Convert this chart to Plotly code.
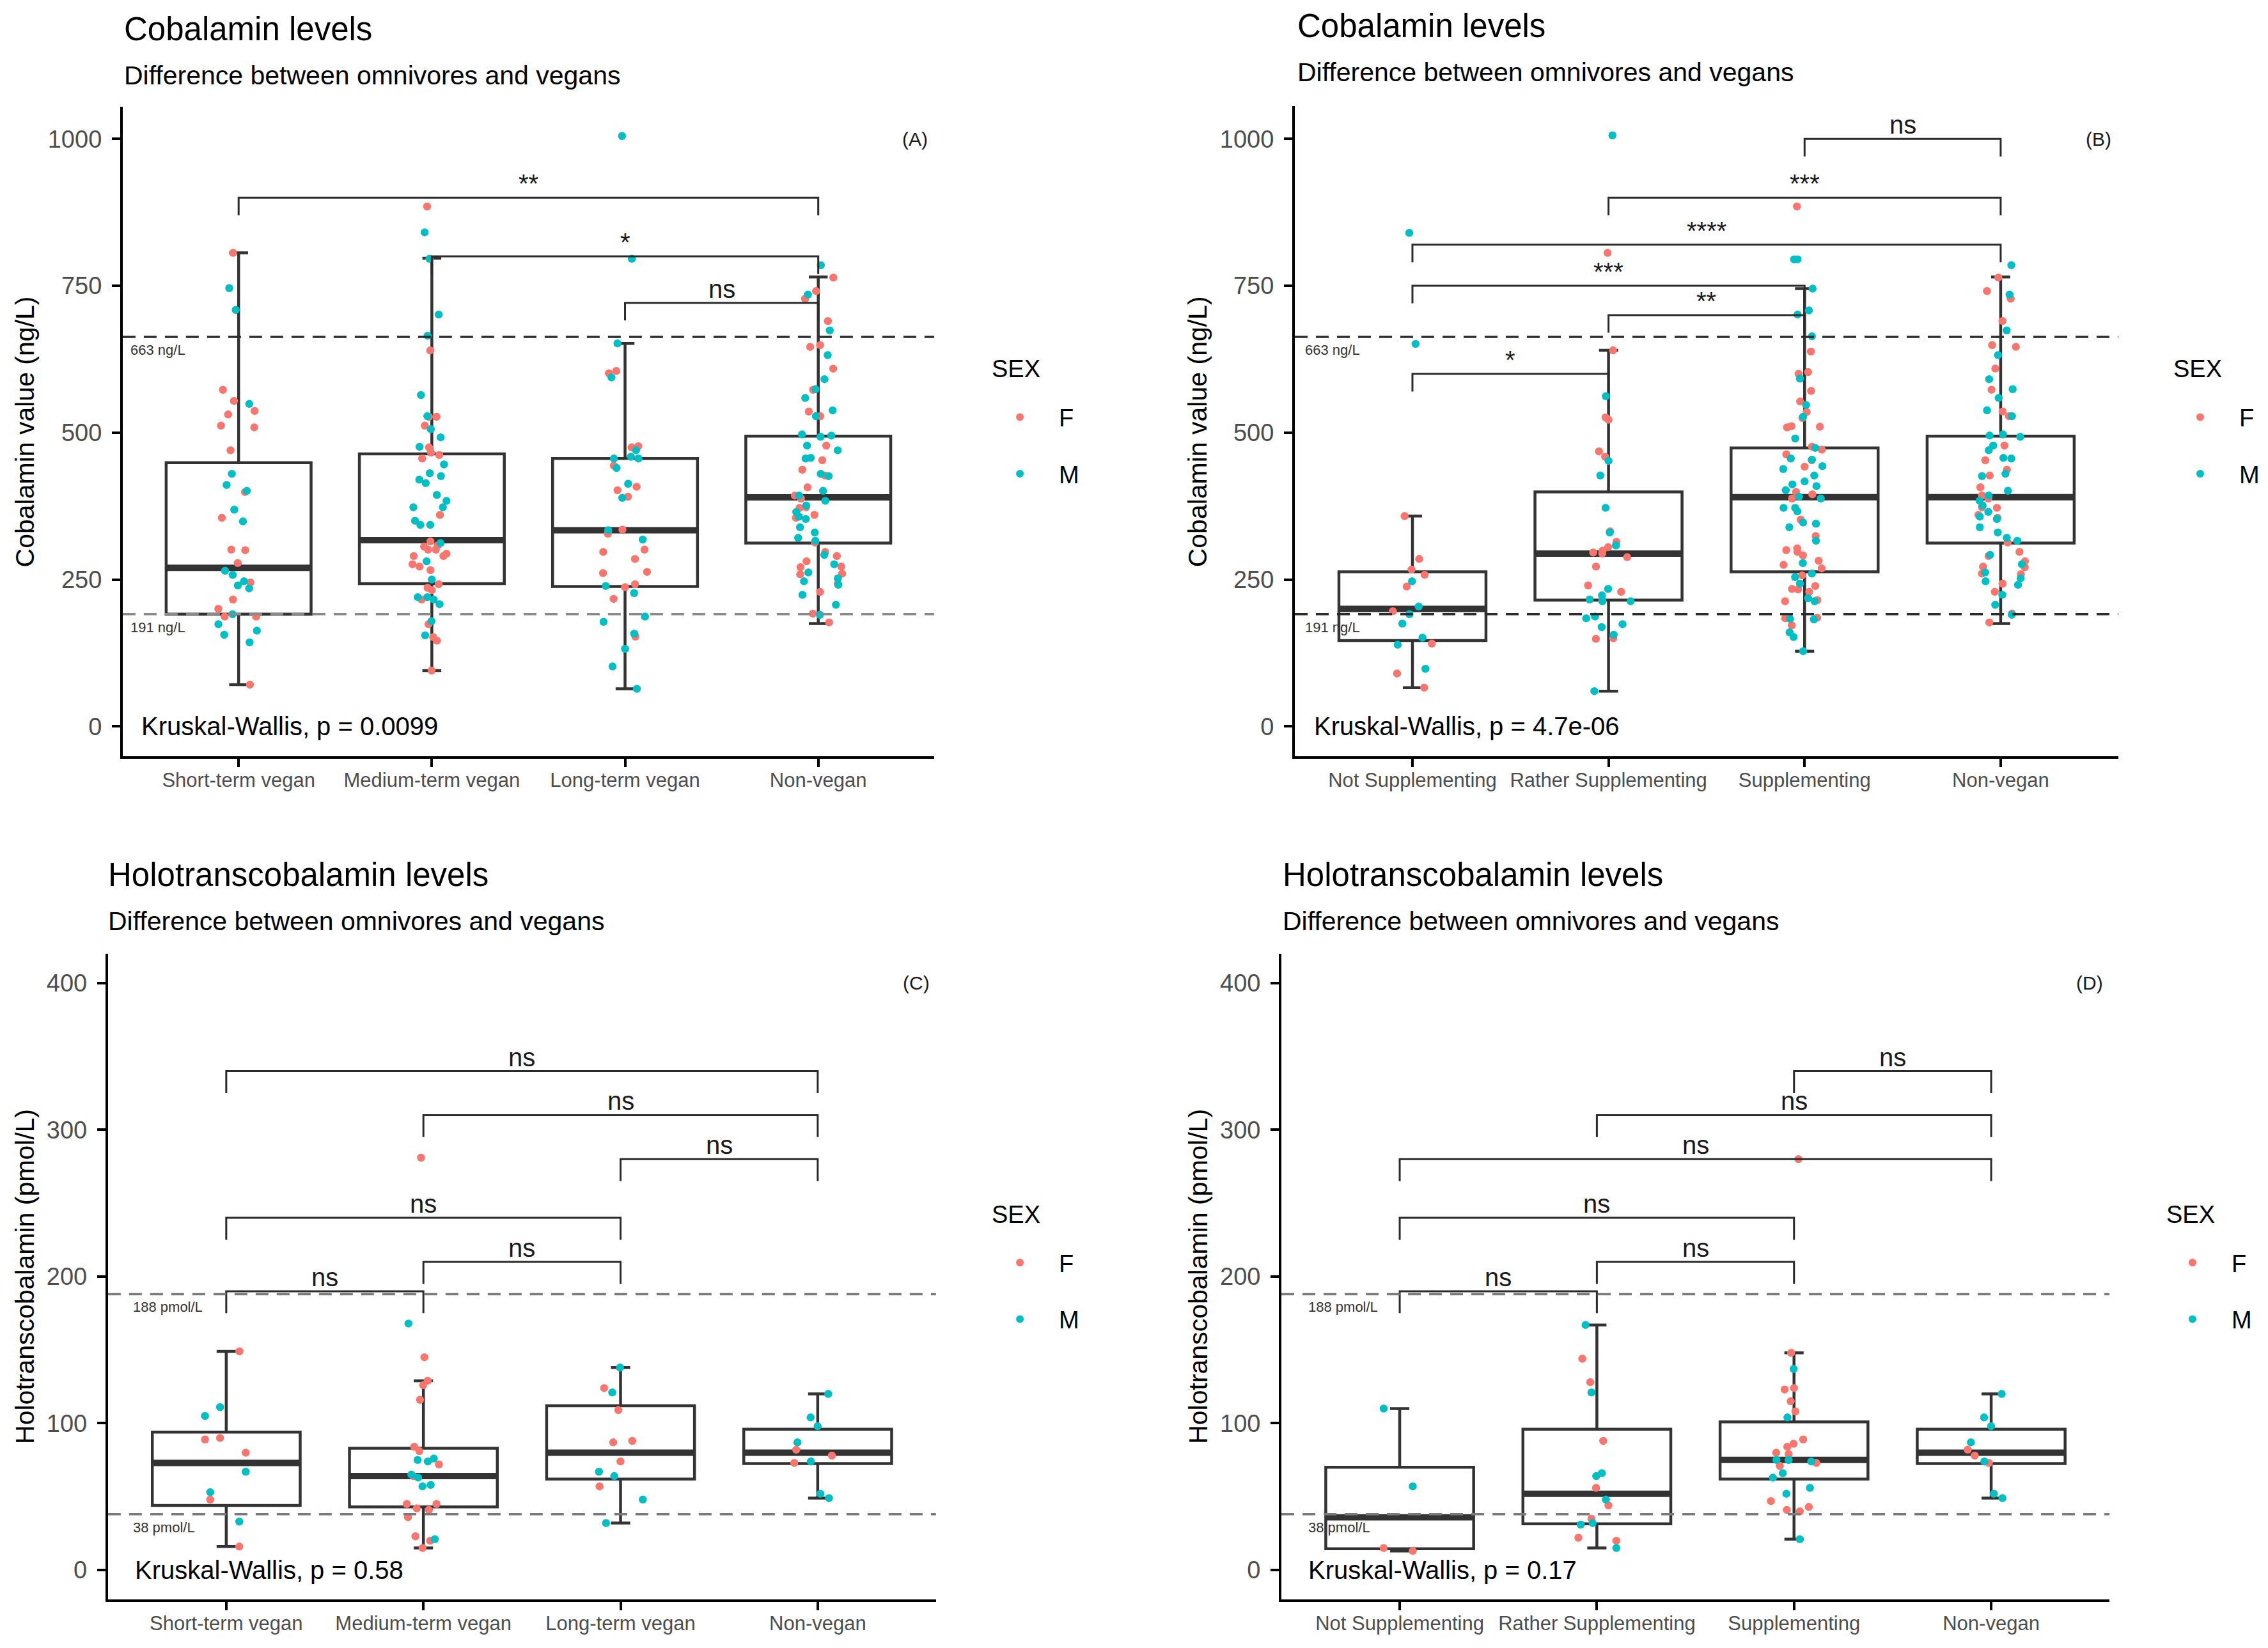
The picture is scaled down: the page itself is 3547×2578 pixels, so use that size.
import plotly.graph_objects as go

# ---------------- categories ----------------
DUR_CATS = ["Short-term vegan", "Medium-term vegan", "Long-term vegan", "Non-vegan"]
SUPP_CATS = ["Not Supplementing", "Rather Supplementing", "Supplementing", "Non-vegan"]
SEX_COLORS = {"F": "#F8766D", "M": "#00BFC4"}

# ---------------- cobalamin (ng/L) points ----------------
A_SHORT_F = [806, 573, 554, 537, 531, 509, 512, 470, 399, 355, 301, 300, 278, 245, 216, 200, 187, 187, 71]
A_SHORT_M = [746, 709, 549, 430, 411, 401, 369, 349, 265, 258, 247, 240, 235, 191, 174, 163, 156, 143]
A_MED_F = [885, 640, 527, 527, 512, 475, 466, 462, 456, 360, 315, 306, 308, 301, 301, 290, 290, 294,
           276, 266, 272, 242, 232, 236, 216, 174, 152, 146, 95]
A_MED_M = [841, 796, 701, 665, 564, 528, 506, 492, 476, 446, 431, 426, 420, 414, 394, 384, 373, 373,
           350, 343, 343, 312, 281, 250, 220, 208, 220, 216, 179, 155]
A_LONG_F = [605, 601, 477, 475, 444, 408, 402, 391, 335, 328, 301, 297, 285, 261, 263, 237, 242, 217, 153]
A_LONG_M = [1005, 796, 652, 594, 470, 459, 456, 456, 440, 413, 389, 334, 318, 239, 227, 187, 178, 158, 132, 102, 64]
NONVEG_B12_F = [764, 741, 728, 690, 649, 646, 609, 573, 536, 528, 478, 453, 437, 427, 407, 393, 388, 373,
                372, 360, 355, 313, 297, 290, 281, 272, 271, 260, 259, 243, 229, 192, 177]
NONVEG_B12_M = [785, 735, 674, 632, 591, 574, 559, 538, 528, 495, 493, 497, 478, 470, 457, 456, 426, 430,
                401, 393, 384, 376, 365, 353, 357, 339, 330, 321, 316, 292, 276, 262, 252, 247, 241, 224, 207, 190]

B_NOT_F = [358, 285, 267, 258, 238, 196, 141, 90, 66]
B_NOT_M = [840, 651, 247, 204, 191, 175, 151, 139, 98]
B_RATHER_F = [806, 640, 526, 522, 468, 459, 332, 314, 305, 296, 294, 299, 288, 272, 240, 229, 215, 150, 149]
B_RATHER_M = [1006, 562, 452, 427, 372, 330, 308, 234, 223, 216, 213, 213, 187, 184, 174, 169, 156, 60]
B_SUPP_F = [885, 638, 600, 603, 571, 553, 535, 525, 509, 511, 510, 476, 471, 463, 453, 442, 399, 395, 388,
            352, 324, 303, 300, 297, 291, 282, 275, 269, 257, 239, 233, 229, 234, 213, 215, 185, 184, 172]
B_SUPP_M = [795, 795, 745, 701, 708, 664, 592, 547, 527, 490, 474, 456, 454, 443, 438, 427, 412, 409, 417,
            402, 391, 388, 372, 372, 366, 347, 345, 339, 316, 278, 260, 254, 243, 218, 213, 183, 182, 160, 152, 128]

# ---------------- holotranscobalamin (pmol/L) points ----------------
C_SHORT_F = [149, 89, 90, 80, 48, 16]
C_SHORT_M = [111, 105, 67, 53, 33]
C_MED_F = [281, 145, 129, 126, 116, 84, 81, 72, 64, 45, 45, 41, 42, 36, 23, 20, 15]
C_MED_M = [168, 76, 75, 74, 65, 63, 57, 58, 21]
C_LONG_F = [124, 109, 87, 88, 74, 57]
C_LONG_M = [138, 121, 67, 64, 48, 32]
NONVEG_HOLO_F = [82, 78, 73]
NONVEG_HOLO_M = [120, 104, 98, 87, 74, 52, 49]

D_NOT_F = [15, 13]
D_NOT_M = [110, 57]
D_RATHER_F = [144, 128, 88, 56, 44, 35, 22, 20]
D_RATHER_M = [167, 121, 64, 66, 48, 31, 32, 15]
D_SUPP_F = [280, 148, 123, 124, 115, 108, 89, 86, 84, 80, 79, 73, 71, 47, 41, 40, 43]
D_SUPP_M = [137, 104, 75, 74, 75, 66, 63, 56, 52, 21]

# ---------------- box summaries ----------------
A_Q1 = [191, 243, 238, 312]
A_MED = [270, 317, 334, 390]
A_Q3 = [449, 464, 456, 494]
A_LO = [71, 95, 64, 175]
A_HI = [806, 797, 652, 765]

B_Q1 = [146, 215, 263, 312]
B_MED = [200, 294, 390, 390]
B_Q3 = [263, 399, 474, 494]
B_LO = [66, 60, 128, 175]
B_HI = [358, 640, 745, 765]

C_Q1 = [44, 43, 62, 72.5]
C_MED = [73, 64, 80, 80]
C_Q3 = [94, 83, 112, 96]
C_LO = [16, 15, 32, 49]
C_HI = [149, 129, 138, 120]

D_Q1 = [14.5, 31.5, 62, 72.5]
D_MED = [36, 52, 75, 80]
D_Q3 = [70, 96, 101, 96]
D_LO = [13, 15, 21, 49]
D_HI = [110, 167, 148, 120]

# ---------------- thresholds ----------------
B12_LIMITS = [191, 663]
B12_LIMIT_LABELS = ["191 ng/L", "663 ng/L"]
HOLO_LIMITS = [38, 188]
HOLO_LIMIT_LABELS = ["38 pmol/L", "188 pmol/L"]

# ---------------- pairwise comparisons ----------------
A_PAIRS = [(0, 3), (1, 3), (2, 3)]
A_SIG = ["**", "*", "ns"]
A_BRK_Y = [900, 800, 721]

B_PAIRS = [(0, 1), (1, 2), (0, 2), (0, 3), (1, 3), (2, 3)]
B_SIG = ["*", "**", "***", "****", "***", "ns"]
B_BRK_Y = [600, 700, 750, 820, 900, 1000]

C_PAIRS = [(0, 1), (1, 2), (0, 2), (2, 3), (1, 3), (0, 3)]
C_SIG = ["ns", "ns", "ns", "ns", "ns", "ns"]
C_BRK_Y = [190, 210, 240, 280, 310, 340]

D_PAIRS = [(0, 1), (1, 2), (0, 2), (0, 3), (1, 3), (2, 3)]
D_SIG = ["ns", "ns", "ns", "ns", "ns", "ns"]
D_BRK_Y = [190, 210, 240, 280, 310, 340]

KW_TEXT = ["Kruskal-Wallis, p = 0.0099", "Kruskal-Wallis, p = 4.7e-06",
           "Kruskal-Wallis, p = 0.58", "Kruskal-Wallis, p = 0.17"]
TAGS = ["(A)", "(B)", "(C)", "(D)"]
TITLES = ["Cobalamin levels", "Cobalamin levels", "Holotranscobalamin levels", "Holotranscobalamin levels"]
SUBTITLE = "Difference between omnivores and vegans"
YTITLES = ["Cobalamin value (ng/L)", "Cobalamin value (ng/L)",
           "Holotranscobalamin (pmol/L)", "Holotranscobalamin (pmol/L)"]

FONT = "Liberation Sans, Arial, Helvetica, sans-serif"
W, H = 3547, 2578

fig = go.Figure()
annotations = []
shapes = []

panels = [
    dict(cats=DUR_CATS, F=[A_SHORT_F, A_MED_F, A_LONG_F, NONVEG_B12_F], M=[A_SHORT_M, A_MED_M, A_LONG_M, NONVEG_B12_M],
         box=(A_Q1, A_MED, A_Q3, A_LO, A_HI), pairs=A_PAIRS, sig=A_SIG, brk=A_BRK_Y, tip=30,
         limits=B12_LIMITS, limlab=B12_LIMIT_LABELS, limcol=["#8a8a8a", "#2b2b2b"],
         yr=[-50.25, 1055.25], ytv=[0, 250, 500, 750, 1000], tagy=1000,
         xd=[0.0541, 0.4119], yd=[0.5413, 0.9354], kwx=-0.51, limx=-0.565),
    dict(cats=SUPP_CATS, F=[B_NOT_F, B_RATHER_F, B_SUPP_F, NONVEG_B12_F], M=[B_NOT_M, B_RATHER_M, B_SUPP_M, NONVEG_B12_M],
         box=(B_Q1, B_MED, B_Q3, B_LO, B_HI), pairs=B_PAIRS, sig=B_SIG, brk=B_BRK_Y, tip=30,
         limits=B12_LIMITS, limlab=B12_LIMIT_LABELS, limcol=["#2b2b2b", "#2b2b2b"],
         yr=[-50.3, 1056.3], ytv=[0, 250, 500, 750, 1000], tagy=1000,
         xd=[0.5709, 0.9340], yd=[0.5413, 0.9358], kwx=-0.51, limx=-0.555),
    dict(cats=DUR_CATS, F=[C_SHORT_F, C_MED_F, C_LONG_F, NONVEG_HOLO_F], M=[C_SHORT_M, C_MED_M, C_LONG_M, NONVEG_HOLO_M],
         box=(C_Q1, C_MED, C_Q3, C_LO, C_HI), pairs=C_PAIRS, sig=C_SIG, brk=C_BRK_Y, tip=15,
         limits=HOLO_LIMITS, limlab=HOLO_LIMIT_LABELS, limcol=["#7a7a7a", "#7a7a7a"],
         yr=[-20, 420], ytv=[0, 100, 200, 300, 400], tagy=400,
         xd=[0.0476, 0.4127], yd=[0.0295, 0.4213], kwx=-0.47, limx=-0.48),
    dict(cats=SUPP_CATS, F=[D_NOT_F, D_RATHER_F, D_SUPP_F, NONVEG_HOLO_F], M=[D_NOT_M, D_RATHER_M, D_SUPP_M, NONVEG_HOLO_M],
         box=(D_Q1, D_MED, D_Q3, D_LO, D_HI), pairs=D_PAIRS, sig=D_SIG, brk=D_BRK_Y, tip=15,
         limits=HOLO_LIMITS, limlab=HOLO_LIMIT_LABELS, limcol=["#7a7a7a", "#7a7a7a"],
         yr=[-20, 420], ytv=[0, 100, 200, 300, 400], tagy=400,
         xd=[0.5650, 0.9301], yd=[0.0295, 0.4213], kwx=-0.47, limx=-0.47),
]

title_pos = [(0.0541, 0.9825, 0.9542), (0.5715, 0.9841, 0.9562), (0.0471, 0.4690, 0.4410), (0.5650, 0.4690, 0.4410)]
ytitle_pos = [(0.0110, 0.7380), (0.5283, 0.7380), (0.0110, 0.2254), (0.5283, 0.2254)]
sex_title_pos = [(0.4367, 0.7762), (0.9577, 0.7762), (0.4367, 0.2630), (0.9546, 0.2630)]
legend_pos = [(0.4325, 0.7590), (0.9529, 0.7590), (0.4325, 0.2460), (0.9495, 0.2460)]

layout_axes = {}
for k, p in enumerate(panels):
    n = k + 1
    xa = "x" if n == 1 else f"x{n}"
    ya = "y" if n == 1 else f"y{n}"
    xname = "xaxis" if n == 1 else f"xaxis{n}"
    yname = "yaxis" if n == 1 else f"yaxis{n}"
    legname = "legend" if n == 1 else f"legend{n}"
    cats = p["cats"]
    q1, med, q3, lo, hi = p["box"]

    # main boxes
    fig.add_trace(go.Box(x=cats, q1=q1, median=med, q3=q3, lowerfence=lo, upperfence=hi,
                         boxpoints=False, width=0.75, whiskerwidth=0.13, fillcolor="white",
                         line=dict(color="#333333", width=4.5), xaxis=xa, yaxis=ya,
                         showlegend=False, hoverinfo="skip"))
    # thick median bars
    fig.add_trace(go.Box(x=cats, q1=med, median=med, q3=med, lowerfence=med, upperfence=med,
                         boxpoints=False, width=0.75, whiskerwidth=0, fillcolor="rgba(0,0,0,0)",
                         line=dict(color="#333333", width=10), xaxis=xa, yaxis=ya,
                         showlegend=False, hoverinfo="skip"))
    # jittered points by sex
    for sex in ("F", "M"):
        groups = p[sex]
        xs = [c for c, g in zip(cats, groups) for _ in g]
        ys = [v for g in groups for v in g]
        fig.add_trace(go.Box(x=xs, y=ys, boxpoints="all", jitter=0.34, pointpos=0, width=0.75,
                             fillcolor="rgba(0,0,0,0)", line=dict(width=0, color="rgba(0,0,0,0)"),
                             marker=dict(color=SEX_COLORS[sex], size=12.5, line=dict(width=0)),
                             xaxis=xa, yaxis=ya, showlegend=False, hoveron="points"))
        # legend entry
        fig.add_trace(go.Scatter(x=[None], y=[None], mode="markers", name=sex,
                                 marker=dict(color=SEX_COLORS[sex], size=12),
                                 xaxis=xa, yaxis=ya, legend=legname, legendgroup=f"{n}{sex}",
                                 showlegend=True))
    # threshold lines
    for thr, lab, col in zip(p["limits"], p["limlab"], p["limcol"]):
        shapes.append(dict(type="line", xref=f"{xa} domain", x0=0, x1=1, yref=ya, y0=thr, y1=thr,
                           line=dict(color=col, width=3.5, dash="20px,13px"), layer="above"))
        annotations.append(dict(xref=xa, yref=ya, x=p["limx"], y=thr, text=lab, showarrow=False,
                                xanchor="left", yanchor="top", yshift=-6,
                                font=dict(size=22, color="#333333", family=FONT)))
    # brackets
    for (i1, i2), s, yb in zip(p["pairs"], p["sig"], p["brk"]):
        fig.add_trace(go.Scatter(x=[cats[i1], cats[i1], cats[i2], cats[i2]],
                                 y=[yb - p["tip"], yb, yb, yb - p["tip"]],
                                 mode="lines", line=dict(color="#2b2b2b", width=3),
                                 xaxis=xa, yaxis=ya, showlegend=False, hoverinfo="skip"))
        annotations.append(dict(xref=xa, yref=ya, x=(i1 + i2) / 2, y=yb, text=s, showarrow=False,
                                xanchor="center", yanchor="bottom", yshift=-2,
                                font=dict(size=40, color="#1a1a1a", family=FONT)))
    # Kruskal-Wallis text
    annotations.append(dict(xref=xa, yref=ya, x=p["kwx"], y=0, text=KW_TEXT[k], showarrow=False,
                            xanchor="left", yanchor="middle", font=dict(size=40, color="#000000", family=FONT)))
    # tag
    annotations.append(dict(xref=xa, yref=ya, x=3.5, y=p["tagy"], text=TAGS[k], showarrow=False,
                            xanchor="center", yanchor="middle", font=dict(size=30, color="#1a1a1a", family=FONT)))
    # titles
    tx, ty, sy = title_pos[k]
    annotations.append(dict(xref="paper", yref="paper", x=tx, y=ty, text=TITLES[k], showarrow=False,
                            xanchor="left", yanchor="middle", font=dict(size=51, color="#000000", family=FONT)))
    annotations.append(dict(xref="paper", yref="paper", x=tx, y=sy, text=SUBTITLE, showarrow=False,
                            xanchor="left", yanchor="middle", font=dict(size=41, color="#000000", family=FONT)))
    yx, yy = ytitle_pos[k]
    annotations.append(dict(xref="paper", yref="paper", x=yx, y=yy, text=YTITLES[k], showarrow=False,
                            textangle=-90, xanchor="center", yanchor="middle",
                            font=dict(size=41, color="#000000", family=FONT)))
    # legend title
    stx, sty = sex_title_pos[k]
    annotations.append(dict(xref="paper", yref="paper", x=stx, y=sty, text="SEX", showarrow=False,
                            xanchor="left", yanchor="middle", font=dict(size=38, color="#000000", family=FONT)))

    axis_common = dict(showline=True, linecolor="#000000", linewidth=4, ticks="outside", ticklen=13,
                       tickwidth=4, tickcolor="#000000", showgrid=False, zeroline=False, fixedrange=True)
    layout_axes[xname] = dict(domain=p["xd"], anchor=ya, type="category", categoryorder="array",
                              categoryarray=cats, range=[-0.6, 3.6], autorange=False, ticklabelstandoff=-6,
                              tickfont=dict(size=31, color="#4d4d4d", family=FONT), **axis_common)
    layout_axes[yname] = dict(domain=p["yd"], anchor=xa, range=p["yr"], autorange=False,
                              tickmode="array", tickvals=p["ytv"], ticklabelstandoff=8,
                              tickfont=dict(size=38, color="#4d4d4d", family=FONT), **axis_common)
    lx, ly = legend_pos[k]
    layout_axes[legname] = dict(x=lx, y=ly, xanchor="left", yanchor="top", bgcolor="rgba(0,0,0,0)",
                                font=dict(size=38, family=FONT, color="#000000"),
                                tracegroupgap=36, itemwidth=112)

fig.update_layout(
    width=W, height=H, margin=dict(l=0, r=0, t=0, b=0, autoexpand=False),
    paper_bgcolor="white", plot_bgcolor="white",
    font=dict(family=FONT),
    boxmode="overlay", hovermode=False,
    annotations=annotations, shapes=shapes,
    **layout_axes,
)

fig.write_html("out.html", config={"displayModeBar": False},
               post_script="document.body.style.margin='0px';document.body.style.overflow='hidden';")
